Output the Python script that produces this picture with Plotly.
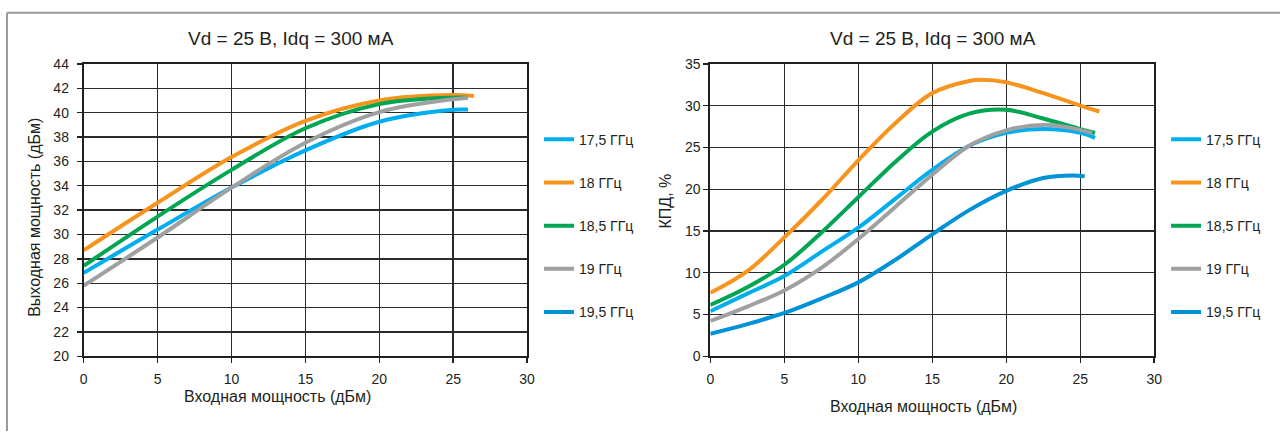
import plotly.graph_objects as go

W, H = 1288, 439

# ---------------- data ----------------
freq_labels = ["17,5 ГГц", "18 ГГц", "18,5 ГГц", "19 ГГц", "19,5 ГГц"]
colors = ["#00AEEF", "#F7941D", "#00A651", "#A0A0A0", "#0092D6"]

# Left chart: output power (dBm) vs input power (dBm)
pin_l = [0, 5, 10, 15, 20, 25, 26]
pout_175 = [26.85, 30.4, 33.85, 36.9, 39.25, 40.23, 40.25]
pin_l_18 = [0, 5, 10, 15, 20, 25, 26.4]
pout_18 = [28.7, 32.6, 36.35, 39.33, 41.0, 41.44, 41.36]
pout_185 = [27.43, 31.47, 35.3, 38.72, 40.7, 41.23, 41.23]
pout_19 = [25.8, 29.75, 33.84, 37.53, 40.04, 41.1, 41.2]

# Right chart: efficiency (%) vs input power (dBm)
pin_r = [0, 2.5, 5, 7.5, 10, 12.5, 15, 17.5, 20, 22.5, 25, 26]
eff_175 = [5.4, 7.5, 9.6, 12.5, 15.4, 18.85, 22.3, 25.2, 26.75, 27.2, 26.75, 26.15]
eff_185 = [6.15, 8.27, 10.96, 14.8, 19.04, 23.27, 26.9, 29.04, 29.5, 28.46, 27.2, 26.73]
pin_r_18 = [0, 2.5, 5, 7.5, 10, 12.5, 15, 17.5, 18.3, 20, 22.5, 25, 26.3]
eff_18 = [7.6, 10.2, 14.23, 18.65, 23.46, 27.9, 31.5, 32.96, 33.1, 32.8, 31.5, 30.0, 29.3]
pin_r_19 = [0, 2.5, 5, 7.5, 10, 12.5, 15, 17.5, 20, 22.5, 25, 25.8]
eff_19 = [4.23, 5.96, 7.88, 10.58, 14.04, 17.88, 21.73, 25.2, 27.04, 27.7, 27.1, 26.7]
pin_r_195 = [0, 2.5, 5, 7.5, 10, 12.5, 15, 17.5, 20, 22.5, 24.5, 25.3]
eff_195 = [2.69, 3.85, 5.19, 6.92, 8.85, 11.54, 14.6, 17.5, 19.8, 21.35, 21.65, 21.54]

title_text = "Vd = 25 В, Idq = 300 мА"
xlab = "Входная мощность (дБм)"
ylab_l = "Выходная мощность (дБм)"
ylab_r = "КПД, %"

left_series = [(pin_l, pout_175), (pin_l_18, pout_18), (pin_l, pout_185), (pin_l, pout_19), ([None], [None])]
right_series = [(pin_r, eff_175), (pin_r_18, eff_18), (pin_r, eff_185), (pin_r_19, eff_19), (pin_r_195, eff_195)]

# ---------------- figure ----------------
fig = go.Figure()
FONT = "Liberation Sans, Arial, sans-serif"
TXT = "#231F20"

for i, (xs, ys) in enumerate(left_series):
    fig.add_trace(go.Scatter(x=xs, y=ys, mode="lines", name=freq_labels[i],
                             line=dict(color=colors[i], width=4, shape="spline", smoothing=1.0),
                             xaxis="x", yaxis="y", legend="legend", legendgroup="L%d" % i,
                             showlegend=True, hoverinfo="skip"))
for i, (xs, ys) in enumerate(right_series):
    fig.add_trace(go.Scatter(x=xs, y=ys, mode="lines", name=freq_labels[i],
                             line=dict(color=colors[i], width=4, shape="spline", smoothing=1.0),
                             xaxis="x2", yaxis="y2", legend="legend2", legendgroup="R%d" % i,
                             showlegend=True, hoverinfo="skip"))

def px_x(p):
    return p / W

def px_y(p):
    return 1 - p / H

ydom = [px_y(361.5), px_y(58)]
axis_common = dict(showgrid=True, gridcolor="#2b2b2b", gridwidth=1.4, zeroline=False,
                   showline=True, linecolor="#231F20", linewidth=2, mirror=True,
                   ticks="outside", ticklen=5, tickcolor="#231F20", tickwidth=1.4,
                   tickfont=dict(family=FONT, size=14, color=TXT))

def ann(text, x, y, size, angle=0):
    return dict(text=text, x=px_x(x), y=px_y(y), xref="paper", yref="paper",
                xanchor="center", yanchor="middle", textangle=angle,
                showarrow=False, font=dict(family=FONT, size=size, color=TXT))

leg_common = dict(xanchor="left", yanchor="top", font=dict(family=FONT, size=14, color=TXT),
                  tracegroupgap=22, bgcolor="rgba(0,0,0,0)", itemwidth=30, itemclick=False,
                  itemdoubleclick=False)

fig.update_layout(
    width=W, height=H,
    margin=dict(l=0, r=0, t=0, b=0),
    paper_bgcolor="white", plot_bgcolor="white",
    font=dict(family=FONT, color=TXT),
    xaxis=dict(domain=[px_x(80.5), px_x(528)], range=[0, 30], dtick=5, anchor="y",
               ticklabelstandoff=4, **axis_common),
    yaxis=dict(domain=ydom, range=[20, 44], dtick=2, anchor="x", ticklabelstandoff=5, **axis_common),
    xaxis2=dict(domain=[px_x(713), px_x(1161)], range=[0, 30], dtick=5, anchor="y2",
                ticklabelstandoff=4, **axis_common),
    yaxis2=dict(domain=ydom, range=[0, 35], dtick=5, anchor="x2", **axis_common),
    legend=dict(x=px_x(540), y=px_y(120), **leg_common),
    legend2=dict(x=px_x(1173), y=px_y(120), **leg_common),
    shapes=[
        dict(type="line", xref="paper", yref="paper", x0=px_x(3), x1=1, y0=px_y(5), y1=px_y(5),
             line=dict(color="#9a9a9a", width=2)),
        dict(type="line", xref="paper", yref="paper", x0=px_x(3), x1=px_x(3), y0=0, y1=px_y(5),
             line=dict(color="#9a9a9a", width=2)),
    ],
    annotations=[
        ann(title_text, 290, 32, 19),
        ann(title_text, 938, 32, 19),
        ann(xlab, 276, 403, 16),
        ann(xlab, 928, 414, 16),
        ann(ylab_l, 30, 217, 16, -90),
        ann(ylab_r, 668, 200, 16, -90),
    ],
)

fig.write_html("out.html", config={"displayModeBar": False, "staticPlot": True},
               post_script="document.body.style.margin='0';document.body.style.overflow='hidden';")
